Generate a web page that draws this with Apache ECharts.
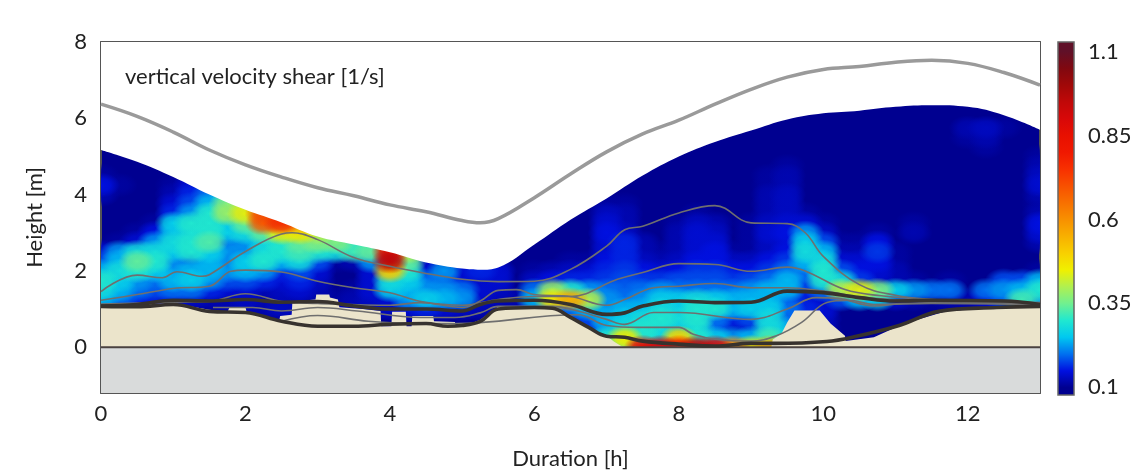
<!DOCTYPE html>
<html>
<head>
<meta charset="utf-8">
<script src="https://cdn.jsdelivr.net/npm/echarts@6/dist/echarts.min.js"></script>
<style>
    html, body { margin: 0; padding: 0; background: #fff; }
    #chart { width: 1147px; height: 475px; }
</style>
</head>
<body>
<div id="chart"></div>
<script>
    // curves are [duration h, height m]
    const waterLevel = [[0,6.37],[0.5,6.05],[1,5.64],[1.5,5.17],[2,4.78],[2.5,4.46],[3,4.18],[3.5,3.97],[4,3.73],[4.5,3.55],[5,3.32],[5.25,3.26],[5.5,3.37],[6,3.92],[6.5,4.54],[7,5.12],[7.5,5.59],[8,5.95],[8.5,6.37],[9,6.76],[9.5,7.08],[10,7.28],[10.5,7.36],[11,7.47],[11.5,7.52],[12,7.44],[12.5,7.2],[13,6.87]];
    const measuredTop = [[0,5.17],[0.5,4.86],[1,4.46],[1.5,4],[2,3.6],[2.5,3.27],[3,2.9],[3.5,2.69],[4,2.49],[4.5,2.22],[5,2.06],[5.25,2.03],[5.5,2.09],[6,2.69],[6.5,3.34],[7,3.9],[7.5,4.5],[8,5],[8.5,5.38],[9,5.68],[9.5,5.97],[10,6.13],[10.5,6.2],[11,6.3],[11.5,6.34],[12,6.3],[12.5,6.08],[13,5.7]];
    const sandTop = [[0,1.1],[1,1.15],[1.5,0.98],[1.75,0.92],[1.78,1.05],[2,1.05],[2.02,0.9],[2.47,0.72],[2.48,0.82],[2.64,0.85],[2.65,1.2],[2.97,1.25],[2.98,1.38],[3.16,1.38],[3.17,1.3],[3.28,1.25],[3.3,1.05],[3.62,1],[3.87,0.95],[3.88,0.55],[4.02,0.55],[4.03,0.93],[4.22,0.93],[4.23,0.55],[4.3,0.55],[4.31,0.82],[4.6,0.82],[4.61,0.68],[4.9,0.66],[4.91,0.57],[5.1,0.6],[5.25,0.72],[5.5,1.07],[6,1.08],[6.25,1.06],[6.5,0.82],[6.75,0.5],[7,0.3],[7.1,0.15],[7.2,0.03],[7.25,0],[9.28,0],[9.3,0.2],[9.42,0.35],[9.5,0.65],[9.6,0.96],[9.95,0.96],[10.1,0.62],[10.3,0.3],[10.31,0.16],[10.7,0.26],[11,0.52],[11.3,0.72],[11.7,0.94],[12.4,1.04],[13,1.07]];
    const bedLine = [[0,1.07],[0.5,1.06],[1,1.12],[1.5,0.94],[2,0.91],[2.5,0.68],[3,0.55],[3.5,0.55],[4,0.6],[4.5,0.62],[4.8,0.55],[5,0.57],[5.25,0.68],[5.5,1],[6,1.04],[6.25,1.02],[6.5,0.78],[6.75,0.52],[7,0.29],[7.25,0.26],[7.5,0.16],[8,0.08],[8.5,0.03],[9,0.1],[9.33,0.1],[10.05,0.15],[10.4,0.26],[11.05,0.57],[11.6,0.94],[12.4,1.04],[13,1.07]];
    const surfaceLine = [[0,1.08],[0.5,1.12],[1,1.23],[1.5,1.21],[2,1.25],[2.5,1.18],[3,1.2],[3.5,1.08],[4,1],[4.5,1],[5,0.95],[5.25,1.12],[5.5,1.21],[6,1.23],[6.5,1.12],[7,0.86],[7.25,0.9],[7.5,1.08],[8,1.21],[8.5,1.17],[9,1.18],[9.5,1.47],[10,1.43],[10.5,1.3],[11,1.21],[11.5,1.23],[12.5,1.21],[13,1.12]];
    const thinA = [[0,1.46],[0.5,1.89],[0.85,1.82],[1.05,1.98],[1.4,1.86],[1.5,1.9],[2,2.51],[2.5,2.97],[2.65,3],[3,2.82],[3.5,2.35],[4,2.12],[4.43,1.96],[5,1.78],[5.5,1.72],[6,1.73],[6.5,2.04],[7,2.65],[7.25,3.08],[7.5,3.17],[8,3.52],[8.5,3.71],[9,3.26],[9.5,3.24],[9.75,3],[10,2.38],[10.5,1.64],[11,1.36],[11.5,1.25],[12,1.22],[13,1.15]];
    const thinB = [[0,1.23],[0.5,1.38],[1,1.54],[1.5,1.6],[1.8,1.99],[2,2.02],[2.5,1.97],[3,1.73],[3.5,1.56],[4,1.43],[4.43,1.2],[5,1.1],[5.5,1.25],[6,1.33],[6.5,1.33],[7.15,1.78],[7.5,1.96],[8,2.19],[8.5,2.17],[9,1.99],[9.5,2.1],[9.75,2],[10.3,1.51],[10.8,1.35],[11.5,1.25],[13,1.17]];
    const thinC = [[0,1.13],[1,1.18],[1.5,1.2],[2,1.4],[2.5,1.2],[3,1.15],[4,1.1],[4.43,1.17],[5,1.04],[5.25,1.21],[5.5,1.49],[5.75,1.51],[6,1.38],[6.5,1.33],[7,1.1],[7.25,1.25],[7.65,1.56],[8,1.6],[8.5,1.67],[9,1.56],[9.5,1.56],[10,1.47],[10.6,1.3],[11.5,1.2],[13,1.15]];
    const thinD = [[1.55,1.04],[2.1,1.04],[2.5,0.95],[3,1.04],[3.55,0.95],[4.43,0.78],[4.9,0.78],[5.25,0.9],[5.5,1.07],[6.25,1.07],[6.6,0.95],[7,0.73],[7.25,0.6],[7.65,0.91],[8,0.91],[9,0.73],[9.5,1],[9.9,1.3],[10.2,1.28],[10.7,1.08],[11.1,1.15],[12,1.18],[13,1.12]];
    const thinE = [[2.5,0.68],[3,0.83],[3.7,0.68],[4.43,0.62],[4.9,0.62],[6.6,0.85],[7,0.57],[7.45,0.52],[8,0.52],[8.2,0.34],[8.5,0.21],[9,0.16],[9.35,0.3],[9.7,0.65],[10.05,1.17],[10.35,1.23],[10.7,1.12],[11.5,1.15],[13,1.12]];

    const xTicks = [0,1,2,3,4,5,6,7,8,9,10,11,12,13];
    const xLabels = [0,2,4,6,8,10,12];
    const yLabels = [0,2,4,6,8];
    const shearLabels = [0.1,0.35,0.6,0.85,1.1];
    const shearColors = ['#000090','#0010e0','#0070f0','#00c8f0','#20e8d0','#70f090','#b0f050','#f0f000','#f8d000','#f8b000','#f89000','#f87000','#f85000','#f83000','#f01800','#e81000','#d80808','#c00808','#a00808','#800810','#601028'];

    const cellHours = 0.25;
    const rowHeights = [5.75,5.5,5.25,5,4.75,4.5,4.25,4,3.75,3.5,3.25,3,2.75,2.5,2.25,2,1.75,1.5,1.25,1,0.75,0.5,0.25,0];
    // shear per cell in hundredths of 1/s, one row per height, one column per quarter hour
    const shearRows = [
        [10,10,10,10,10,10,10,10,10,10,10,10,10,10,10,10,10,10,10,10,10,10,10,10,10,10,10,10,10,10,10,10,10,10,10,10,10,10,10,10,10,10,10,10,10,10,10,10,12,13,11,10,10],
        [10,10,10,10,10,10,10,10,10,10,10,10,10,10,10,10,10,10,10,10,10,10,10,10,10,10,10,10,10,10,10,10,10,10,10,10,10,10,10,10,10,10,10,10,10,10,10,10,11,12,10,10,10],
        [10,10,10,10,10,10,10,10,10,10,10,10,10,10,10,10,10,10,10,10,10,10,10,10,10,10,10,10,10,10,10,10,10,10,10,10,10,10,10,10,10,10,10,10,10,10,10,10,10,11,10,10,10],
        [10,10,10,10,10,10,10,10,10,10,10,10,10,10,10,10,10,10,10,10,10,10,10,10,10,10,10,10,10,10,10,10,10,10,10,10,10,10,10,10,10,10,10,10,10,10,10,10,10,10,10,10,11],
        [10,10,10,10,10,10,10,10,10,10,10,10,10,10,10,10,10,10,10,10,10,10,10,10,10,10,10,10,10,10,10,10,10,10,10,10,10,10,11,10,10,10,10,10,10,10,10,10,10,10,10,10,12],
        [11,10,10,10,10,10,10,10,10,10,10,10,10,10,10,10,10,10,10,10,10,10,10,10,10,10,10,10,10,10,10,10,10,10,10,10,10,11,12,10,10,10,10,10,10,10,10,10,10,10,10,10,13],
        [15,11,10,10,11,14,14,14,14,10,10,10,10,10,10,10,10,10,10,10,10,10,10,10,10,10,10,10,10,10,10,10,10,10,10,10,10,11,12,10,10,10,10,10,10,10,10,10,10,10,10,10,14],
        [12,10,10,10,12,16,20,26,30,30,30,30,10,10,10,10,10,10,10,10,10,10,10,10,10,10,10,10,10,10,10,10,10,10,10,10,10,12,13,10,10,10,10,10,10,10,10,10,10,10,10,10,12],
        [10,10,10,10,14,18,24,36,40,40,40,40,10,10,10,10,10,10,10,10,10,10,10,10,10,10,10,10,11,11,10,10,10,10,10,10,10,12,13,10,10,10,10,10,10,10,10,10,10,10,10,10,11],
        [10,10,10,10,16,22,30,38,44,70,70,60,40,10,10,10,10,10,10,10,10,10,10,10,10,10,10,10,13,12,10,10,10,11,10,10,10,12,13,11,10,10,10,10,10,10,10,10,10,10,10,10,12],
        [10,10,10,11,26,30,30,26,34,68,75,55,46,40,36,30,30,20,10,10,10,10,10,10,10,10,10,10,14,12,10,10,11,13,12,10,11,13,14,14,11,10,10,10,10,11,10,10,10,10,10,10,15],
        [10,10,11,15,24,28,30,26,28,34,44,46,40,36,32,28,28,20,10,10,10,10,10,10,10,10,10,10,15,13,10,10,12,14,13,10,11,14,15,22,13,10,10,11,10,12,10,10,10,10,10,10,14],
        [10,11,14,22,28,30,33,18,22,26,30,34,36,36,30,30,60,24,10,10,10,10,10,10,10,10,10,10,14,16,12,10,12,14,14,10,11,13,14,26,18,11,11,15,10,10,10,10,10,10,10,10,12],
        [14,22,28,28,26,30,26,22,20,28,30,32,30,28,32,34,85,40,10,10,10,10,10,10,10,10,10,10,14,16,12,11,12,14,15,11,11,13,15,28,24,12,12,17,11,10,10,10,10,10,10,10,10],
        [18,24,34,30,20,18,24,20,26,30,24,28,18,11,12,22,95,34,13,10,10,10,10,10,10,10,11,11,15,16,13,12,13,15,15,13,13,15,17,24,28,14,14,15,11,10,10,10,10,10,10,10,10],
        [24,28,30,26,22,24,24,22,24,22,16,18,14,10,10,14,50,30,14,22,14,16,14,10,11,12,13,14,16,17,15,14,15,17,17,15,15,17,20,20,30,18,15,14,12,10,10,10,10,10,10,10,11],
        [30,26,22,20,24,26,22,18,18,16,14,16,13,10,10,14,28,26,20,18,14,13,14,10,13,15,16,16,17,18,17,17,18,18,18,17,18,20,24,18,30,28,17,13,12,11,10,11,10,10,18,18,24],
        [28,24,20,18,20,20,16,14,14,12,13,14,12,10,11,14,26,24,22,22,20,14,13,10,20,38,30,22,20,19,20,22,20,20,20,20,22,24,24,16,20,40,44,36,26,22,20,20,10,20,22,24,30],
        [24,20,16,14,14,13,12,12,13,12,12,12,11,11,12,13,14,22,26,24,22,13,12,12,24,46,55,40,22,20,22,26,26,28,26,24,24,24,18,14,14,18,24,26,14,12,11,12,12,14,18,32,22],
        [10,10,10,10,10,10,10,12,12,12,13,12,11,11,12,13,13,14,16,14,13,12,12,12,12,15,20,24,22,24,24,28,26,30,30,24,26,26,20,16,14,10,10,10,10,10,10,10,10,10,10,10,10],
        [10,10,10,10,10,10,10,10,10,10,10,10,10,10,10,10,10,10,10,10,10,10,10,10,10,10,14,18,24,26,28,30,28,30,20,16,18,28,18,16,13,10,10,10,10,10,10,10,10,10,10,10,10],
        [10,10,10,10,10,10,10,10,10,10,10,10,10,10,10,10,10,10,10,10,10,10,10,10,10,10,10,14,22,28,30,28,24,28,18,12,14,28,24,16,12,10,10,10,10,10,10,10,10,10,10,10,10],
        [10,10,10,10,10,10,10,10,10,10,10,10,10,10,10,10,10,10,10,10,10,10,10,10,10,10,10,10,30,45,30,26,48,30,26,22,24,32,26,14,12,10,10,10,10,10,10,10,10,10,10,10,10],
        [10,10,10,10,10,10,10,10,10,10,10,10,10,10,10,10,10,10,10,10,10,10,10,10,10,10,10,10,24,35,85,90,80,95,90,60,45,55,22,12,10,10,10,10,10,10,10,10,10,10,10,10,10]
    ];

    // cells drawn low to high so strong shear stays on top of its soft edge
    let heatCells = [];
    shearRows.forEach((row, r) => {
        row.forEach((v, c) => {
            if (v > 10) heatCells.push([c * cellHours, rowHeights[r], v / 100]);
        });
    });
    heatCells.sort((a, b) => a[2] - b[2]);

    const barMin = 0.076, barMax = 1.13;
    const lineGrey = '#6f6f6f', thickDark = '#37322e';

    function curve(data, color, width, z) {
        return {
            type: 'line', data: data, smooth: 0.4, showSymbol: false, silent: true, z: z,
            xAxisIndex: 0, yAxisIndex: 0,
            lineStyle: { color: color, width: width }
        };
    }
    function area(data, color, origin, z, smooth) {
        return {
            type: 'line', data: data, smooth: smooth, showSymbol: false, silent: true, z: z,
            xAxisIndex: 0, yAxisIndex: 0,
            lineStyle: { width: 0, opacity: 0 },
            areaStyle: { color: color, opacity: 1, origin: origin }
        };
    }

    const fontName = 'Lato';
    let myChart = echarts.init(document.getElementById('chart'), null, { renderer: 'canvas' });
    myChart.setOption({
        animation: false,
        backgroundColor: '#fff',
        textStyle: { fontFamily: fontName },
        grid: [
            { left: 101, top: 42, width: 939, height: 352, show: true, backgroundColor: '#000090', borderWidth: 0 },
            { left: 1058, top: 42, width: 16, height: 353 }
        ],
        visualMap: {
            show: false, min: 0.1, max: 1.1, dimension: 2, seriesIndex: 0,
            inRange: { color: shearColors }
        },
        xAxis: [
            {
                type: 'value', min: 0, max: 13, interval: 1, gridIndex: 0,
                name: 'Duration [h]', nameLocation: 'middle', nameGap: 55,
                nameTextStyle: { fontSize: 22, color: '#222', fontFamily: fontName },
                axisLine: { lineStyle: { color: '#555', width: 2 }, onZero: false },
                axisTick: { inside: true, length: 4, lineStyle: { color: '#555', width: 1 } },
                axisLabel: { customValues: xLabels, fontSize: 22, color: '#222', margin: 10, fontFamily: fontName },
                splitLine: { show: false }
            },
            {
                type: 'value', min: 0, max: 13, interval: 1, gridIndex: 0, position: 'top',
                axisLine: { lineStyle: { color: '#555', width: 2 }, onZero: false },
                axisTick: { inside: true, length: 4, lineStyle: { color: '#555', width: 1 } },
                axisLabel: { show: false }, splitLine: { show: false }
            },
            { type: 'value', min: 0, max: 1, gridIndex: 1, show: false }
        ],
        yAxis: [
            {
                type: 'value', min: -1.2, max: 8, gridIndex: 0,
                name: 'Height [m]', nameLocation: 'middle', nameGap: 55, nameRotate: 90,
                nameTextStyle: { fontSize: 22, color: '#222', fontFamily: fontName },
                axisLine: { lineStyle: { color: '#555', width: 2 }, onZero: false },
                axisTick: { inside: true, length: 4, customValues: yLabels, lineStyle: { color: '#555', width: 1 } },
                axisLabel: { customValues: yLabels, fontSize: 22, color: '#222', margin: 14, fontFamily: fontName },
                splitLine: { show: false }
            },
            {
                type: 'value', min: -1.2, max: 8, gridIndex: 0, position: 'right',
                axisLine: { lineStyle: { color: '#555', width: 2 }, onZero: false },
                axisTick: { inside: true, length: 4, customValues: yLabels, lineStyle: { color: '#555', width: 1 } },
                axisLabel: { show: false }, splitLine: { show: false }
            },
            {
                type: 'value', min: barMin, max: barMax, gridIndex: 1, position: 'right',
                axisLine: { show: false },
                axisTick: { show: false },
                axisLabel: {
                    customValues: shearLabels, fontSize: 22, color: '#222', margin: 14, fontFamily: fontName,
                    formatter: v => String(v)
                },
                splitLine: { show: false }
            }
        ],
        series: [
            {
                type: 'custom', data: heatCells, xAxisIndex: 0, yAxisIndex: 0, z: 1, silent: true, clip: true,
                encode: { x: 0, y: 1 },
                renderItem: function (params, api) {
                    let p = api.coord([api.value(0), api.value(1)]);
                    let c = api.visual('color');
                    return {
                        type: 'circle', x: p[0], y: p[1], scaleX: 1.9, scaleY: 1.25,
                        shape: { cx: 0, cy: 0, r: 10 },
                        style: {
                            fill: new echarts.graphic.RadialGradient(0.5, 0.5, 0.5, [
                                { offset: 0, color: echarts.color.modifyAlpha(c, 1) },
                                { offset: 0.5, color: echarts.color.modifyAlpha(c, 0.8) },
                                { offset: 1, color: echarts.color.modifyAlpha(c, 0) }
                            ])
                        }
                    };
                }
            },
            area(measuredTop, '#ffffff', 'end', 2, 0.4),
            area(sandTop, '#ebe4cb', 'start', 3, false),
            area([[0,0],[13,0]], '#d9dbdb', 'start', 4, false),
            curve([[0,0],[13,0]], '#4a4240', 2, 5),
            curve(waterLevel, '#9a9a9a', 3.5, 6),
            curve(thinA, lineGrey, 1.6, 6),
            curve(thinB, lineGrey, 1.6, 6),
            curve(thinC, lineGrey, 1.6, 6),
            curve(thinD, lineGrey, 1.6, 6),
            curve(thinE, lineGrey, 1.6, 6),
            curve(surfaceLine, thickDark, 3.6, 7),
            curve(bedLine, thickDark, 3.6, 7),
            {
                // colour bar
                type: 'custom', data: [[0, 1, barMin, barMax]], xAxisIndex: 2, yAxisIndex: 2, z: 2, silent: true,
                renderItem: function (params, api) {
                    let a = api.coord([0, barMax]);
                    let b = api.coord([1, barMin]);
                    let stops = shearColors.map((col, i) => ({
                        offset: (barMax - (1.1 - i * 0.05 * 0) + 0 * i) * 0 + (barMax - (0.1 + i * 0.05)) / (barMax - barMin),
                        color: col
                    })).reverse();
                    return {
                        type: 'rect',
                        shape: { x: a[0], y: a[1], width: b[0] - a[0], height: b[1] - a[1] },
                        style: {
                            fill: new echarts.graphic.LinearGradient(0, 0, 0, 1, stops),
                            stroke: '#666', lineWidth: 1.5
                        }
                    };
                }
            }
        ],
        graphic: [
            {
                type: 'text', left: 125, top: 66, z: 20,
                style: { text: 'vertical velocity shear [1/s]', fontSize: 22, fill: '#222', fontFamily: fontName }
            }
        ]
    });
</script>
</body>
</html>
